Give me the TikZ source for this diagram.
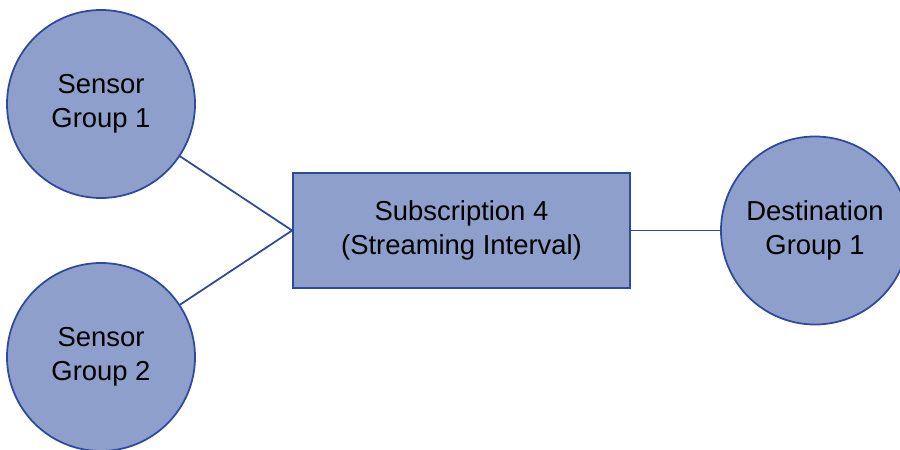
\documentclass[tikz,border=0pt]{standalone}
\usepackage{fontspec}
\setmainfont{Liberation Sans}
\usepackage{tikz}
\usetikzlibrary{arrows.meta,positioning,calc}
\definecolor{GroupFill}{HTML}{8F9FCB}
\definecolor{GroupLine}{HTML}{2E4A9E}
\begin{document}
\begin{tikzpicture}[
  grp/.style={circle,draw=GroupLine,fill=GroupFill,line width=1pt,
              minimum size=3.76cm,align=center,font=\fontsize{15.6}{19.5}\selectfont},
  sub/.style={rectangle,draw=GroupLine,fill=GroupFill,line width=1pt,
              minimum width=6.74cm,minimum height=2.3cm,align=center,
              font=\fontsize{15.6}{19.5}\selectfont},
  link/.style={draw=GroupLine,line width=1pt}
]
  \useasboundingbox (0,0) rectangle (18,9);
  % Groups and subscription
  \node[grp] (s1)  at (2.02,6.92)  {Sensor\\Group 1};
  \node[grp] (s2)  at (2.02,1.86)  {Sensor\\Group 2};
  \node[sub] (sub) at (9.23,4.39)  {Subscription 4\\(Streaming Interval)};
  \node[grp] (d1)  at (16.3,4.39)  {Destination\\Group 1};

  \draw[link] (s1)--(sub.west);
  \draw[link] (s2)--(sub.west);
  \draw[link] (sub)--(d1);
\end{tikzpicture}
\end{document}
